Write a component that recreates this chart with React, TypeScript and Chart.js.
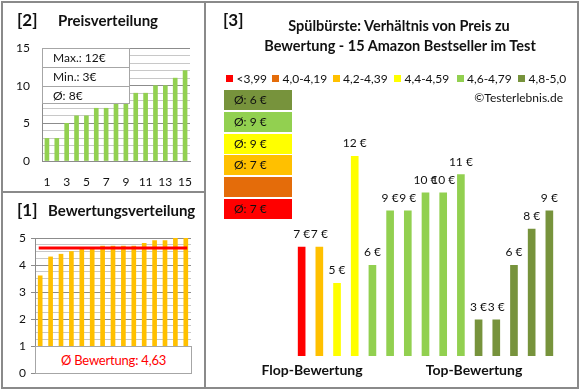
import React, { useEffect, useRef } from "react";
import { Chart, registerables } from "chart.js";
Chart.register(...registerables);

const FONT = "Lato, 'Open Sans', 'DejaVu Sans', sans-serif";

// ---------- DATA ----------
// Panel [2] Preisverteilung
const priceRankLabels = ["1", "2", "3", "4", "5", "6", "7", "8", "9", "10", "11", "12", "13", "14", "15"];
const sortedPrices = [3, 3, 5, 6, 6, 7, 7, 8, 9, 9, 9, 10, 10, 11, 12];
const priceStatTexts = ["Max.: 12€", "Min.: 3€", "Ø: 8€"];

// Panel [1] Bewertungsverteilung
const ratingLabels = ["1", "2", "3", "4", "5", "6", "7", "8", "9", "10", "11", "12", "13", "14", "15"];
const sortedRatings = [3.6, 4.3, 4.4, 4.5, 4.6, 4.6, 4.7, 4.7, 4.7, 4.7, 4.8, 4.9, 4.9, 5.0, 5.0];
const avgRating = 4.63;
const avgRatingText = "Ø Bewertung: 4,63";

// Panel [3] Preis zu Bewertung
const productLabels = ["P1", "P2", "P3", "P4", "P5", "P6", "P7", "P8", "P9", "P10", "P11", "P12", "P13", "P14", "P15"];
const productPrices = [7, 7, 5, 12, 6, 9, 9, 10, 10, 11, 3, 3, 6, 8, 9];
const productRatings = [3.6, 4.3, 4.4, 4.5, 4.6, 4.6, 4.7, 4.7, 4.7, 4.7, 4.8, 4.9, 4.9, 5.0, 5.0];
const legendLabels = ["<3,99", "4,0-4,19", "4,2-4,39", "4,4-4,59", "4,6-4,79", "4,8-5,0"];
const classLowerBounds = [0, 4.0, 4.2, 4.4, 4.6, 4.8];
const groupAvgTexts = ["Ø: 6 €", "Ø: 9 €", "Ø: 9 €", "Ø: 7 €", "", "Ø: 7 €"]; // top (best) to bottom (worst)
const titleLines = ["Spülbürste: Verhältnis von Preis zu", "Bewertung - 15 Amazon Bestseller im Test"];

// ---------- STYLE ----------
const CLASS_COLORS = ["#FF0000", "#E46C0A", "#FFC000", "#FFFF00", "#92D050", "#77933C"];
const LEGEND_X = [226, 272, 332.5, 394, 456.5, 518];
const GRID_MAJOR = "#8c8c8c";
const GRID_MINOR = "#c8c8c8";

function classIndex(r: number) {
  let k = 0;
  for (let i = 0; i < classLowerBounds.length; i++) if (r >= classLowerBounds[i] - 1e-9) k = i;
  return k;
}

const Txt = ({ x, y, text, size, bold, color, align }: any) => {
  const h = size * 1.6;
  const style: any = {
    position: "absolute",
    top: y - h / 2,
    height: h,
    lineHeight: h + "px",
    fontSize: size,
    fontFamily: FONT,
    fontWeight: bold ? 700 : 400,
    color: color || "#111",
    whiteSpace: "nowrap",
  };
  if (align === "center") {
    style.left = x - 250;
    style.width = 500;
    style.textAlign = "center";
  } else if (align === "right") {
    style.left = x - 300;
    style.width = 300;
    style.textAlign = "right";
  } else {
    style.left = x;
  }
  return <div style={style}>{text}</div>;
};

export default function App() {
  const refA = useRef<HTMLCanvasElement>(null);
  const refB = useRef<HTMLCanvasElement>(null);
  const refC = useRef<HTMLCanvasElement>(null);

  useEffect(() => {
    const tickFont = { family: FONT, size: 12 };

    const chartA = new Chart(refA.current!, {
      type: "bar",
      data: {
        labels: priceRankLabels,
        datasets: [{ data: sortedPrices, backgroundColor: "#92D050", barThickness: 4 }],
      },
      options: {
        animation: false,
        responsive: false,
        devicePixelRatio: 1,
        layout: { padding: { left: 4, top: 48, right: 390, bottom: 199 } },
        plugins: { legend: { display: false }, tooltip: { enabled: false } },
        scales: {
          x: {
            grid: { display: false },
            border: { color: GRID_MAJOR },
            ticks: {
              autoSkip: false,
              maxRotation: 0,
              padding: 6,
              color: "#111",
              font: tickFont,
              callback: (_v: any, i: number) => (i % 2 === 0 ? priceRankLabels[i] : ""),
            },
            afterFit: (s: any) => {
              s.height = 30;
            },
          },
          y: {
            min: 0,
            max: 15,
            ticks: {
              stepSize: 1,
              autoSkip: false,
              padding: 12,
              color: "#111",
              font: tickFont,
              callback: (v: any) => (Number(v) % 5 === 0 ? String(v) : ""),
            },
            grid: {
              drawTicks: false,
              color: (c: any) => (c.tick && c.tick.value % 5 === 0 ? GRID_MAJOR : GRID_MINOR),
            },
            border: { color: GRID_MAJOR },
            afterFit: (s: any) => {
              s.width = 38;
            },
          },
        },
      } as any,
    });

    const avgLinePlugin = {
      id: "avgLine",
      afterDatasetsDraw(chart: any) {
        const meta = chart.getDatasetMeta(0);
        const pts = meta.data;
        const y = chart.scales.y.getPixelForValue(avgRating);
        const ctx = chart.ctx;
        ctx.save();
        ctx.strokeStyle = "#FF0000";
        ctx.lineWidth = 3;
        ctx.beginPath();
        ctx.moveTo(pts[0].x - 1.5, y);
        ctx.lineTo(pts[pts.length - 1].x + 1.5, y);
        ctx.stroke();
        ctx.restore();
      },
    };

    const chartB = new Chart(refB.current!, {
      type: "bar",
      data: {
        labels: ratingLabels,
        datasets: [{ data: sortedRatings, backgroundColor: "#FFC000", barThickness: 4 }],
      },
      options: {
        animation: false,
        responsive: false,
        devicePixelRatio: 1,
        layout: { padding: { left: 4, top: 238, right: 389, bottom: 17 } },
        plugins: { legend: { display: false }, tooltip: { enabled: false } },
        scales: {
          x: { display: false, offset: true },
          y: {
            min: 0,
            max: 5,
            ticks: {
              stepSize: 0.25,
              autoSkip: false,
              padding: 5,
              color: "#111",
              font: tickFont,
              callback: (v: any) => (Number.isInteger(Number(v)) ? String(v) : ""),
            },
            grid: {
              tickLength: 4,
              color: (c: any) => (c.tick && Number.isInteger(c.tick.value) ? GRID_MAJOR : GRID_MINOR),
              tickColor: (c: any) => (c.tick && Number.isInteger(c.tick.value) ? GRID_MAJOR : "rgba(0,0,0,0)"),
            },
            border: { color: GRID_MAJOR },
            afterFit: (s: any) => {
              s.width = 31;
            },
          },
        },
      } as any,
      plugins: [avgLinePlugin],
    });

    const valueLabelPlugin = {
      id: "valueLabels",
      afterDatasetsDraw(chart: any) {
        const meta = chart.getDatasetMeta(0);
        const ctx = chart.ctx;
        ctx.save();
        ctx.font = `12px ${FONT}`;
        ctx.fillStyle = "#111";
        ctx.textAlign = "center";
        ctx.textBaseline = "alphabetic";
        meta.data.forEach((el: any, i: number) => {
          ctx.fillText(`${productPrices[i]} €`, el.x, el.y - 9);
        });
        ctx.restore();
      },
    };

    const chartC = new Chart(refC.current!, {
      type: "bar",
      data: {
        labels: productLabels,
        datasets: [
          {
            data: productPrices,
            backgroundColor: productRatings.map((r) => CLASS_COLORS[classIndex(r)]),
            barThickness: 7,
          },
        ],
      },
      options: {
        animation: false,
        responsive: false,
        devicePixelRatio: 1,
        layout: { padding: { left: 292.8, top: 102, right: 21.8, bottom: 34 } },
        plugins: { legend: { display: false }, tooltip: { enabled: false } },
        scales: {
          x: { display: false, offset: true },
          y: { display: false, min: 1, max: 15 },
        },
      } as any,
      plugins: [valueLabelPlugin],
    });

    return () => {
      chartA.destroy();
      chartB.destroy();
      chartC.destroy();
    };
  }, []);

  const canvasStyle: any = { position: "absolute", left: 0, top: 0 };
  const boxBorder = "1px solid #a6a6a6";

  return (
    <div
      style={{
        position: "absolute",
        left: 0,
        top: 0,
        width: 580,
        height: 390,
        background: "#fff",
        overflow: "hidden",
        fontFamily: FONT,
      }}
    >
      <canvas ref={refA} width={580} height={390} style={canvasStyle} />
      <canvas ref={refB} width={580} height={390} style={canvasStyle} />
      <canvas ref={refC} width={580} height={390} style={canvasStyle} />

      {/* frame */}
      <div
        style={{
          position: "absolute",
          left: 1,
          top: 1,
          width: 578,
          height: 388,
          border: "2px solid #8a8a8a",
          boxSizing: "border-box",
        }}
      />
      <div style={{ position: "absolute", left: 204, top: 1, width: 2, height: 388, background: "#8a8a8a" }} />
      <div style={{ position: "absolute", left: 1, top: 191, width: 204, height: 2, background: "#8a8a8a" }} />

      {/* Panel [2] */}
      <Txt x={17} y={20} text="[2]" size={17} bold />
      <Txt x={58} y={20} text="Preisverteilung" size={15} bold />
      <div
        style={{
          position: "absolute",
          left: 42,
          top: 48,
          width: 88,
          height: 56,
          background: "#fff",
          border: boxBorder,
          boxSizing: "border-box",
        }}
      >
        {priceStatTexts.map((t, i) => (
          <div
            key={i}
            style={{
              height: 18,
              lineHeight: "18px",
              borderTop: i > 0 ? boxBorder : "none",
              paddingLeft: 10,
              fontSize: 12,
              color: "#111",
              whiteSpace: "nowrap",
            }}
          >
            {t}
          </div>
        ))}
      </div>

      {/* Panel [1] */}
      <Txt x={17} y={210} text="[1]" size={17} bold />
      <Txt x={48} y={210} text="Bewertungsverteilung" size={15} bold />
      <div
        style={{
          position: "absolute",
          left: 35,
          top: 346,
          width: 157,
          height: 28,
          background: "#fff",
          border: boxBorder,
          boxSizing: "border-box",
          textAlign: "center",
          lineHeight: "26px",
          fontSize: 13,
          letterSpacing: -0.2,
          color: "#FF0000",
          whiteSpace: "nowrap",
        }}
      >
        {avgRatingText}
      </div>

      {/* Panel [3] */}
      <Txt x={223} y={20} text="[3]" size={17} bold />
      <Txt x={399} y={26} text={titleLines[0]} size={14.5} bold align="center" />
      <Txt x={400} y={46} text={titleLines[1]} size={14.5} bold align="center" />
      {legendLabels.map((l, i) => (
        <React.Fragment key={i}>
          <div
            style={{
              position: "absolute",
              left: LEGEND_X[i],
              top: 75,
              width: 7,
              height: 7,
              background: CLASS_COLORS[i],
            }}
          />
          <Txt x={LEGEND_X[i] + 10.5} y={78.5} text={l} size={12} />
        </React.Fragment>
      ))}
      <Txt x={563} y={98} text="©Testerlebnis.de" size={12} align="right" />
      {groupAvgTexts.map((t, i) => (
        <div
          key={i}
          style={{
            position: "absolute",
            left: 224,
            top: 90 + i * 21.75,
            width: 68,
            height: 20,
            background: CLASS_COLORS[5 - i],
            lineHeight: "20px",
            paddingLeft: 10,
            boxSizing: "border-box",
            fontSize: 12,
            color: "#111",
            whiteSpace: "nowrap",
          }}
        >
          {t}
        </div>
      ))}
      <Txt x={312} y={370} text="Flop-Bewertung" size={14} bold align="center" />
      <Txt x={474} y={370} text="Top-Bewertung" size={14} bold align="center" />
    </div>
  );
}
